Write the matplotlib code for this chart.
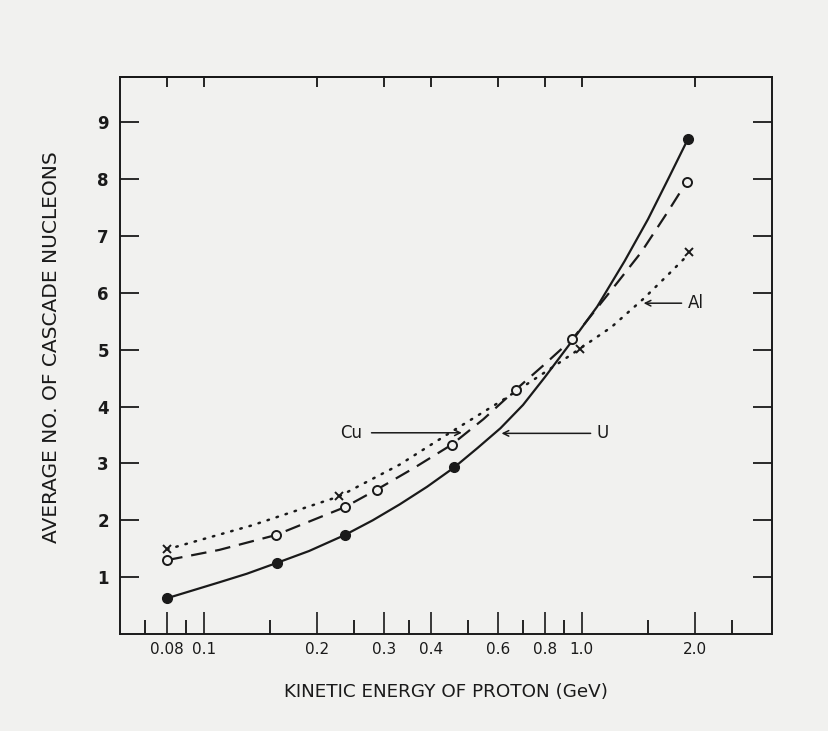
import matplotlib
matplotlib.use("Agg")
import matplotlib.pyplot as plt
from matplotlib.ticker import FixedLocator, NullFormatter

# energies (GeV) and cascade nucleon counts
u_x = [0.08, 0.156, 0.236, 0.46, 1.91]
u_y = [0.63, 1.25, 1.74, 2.93, 8.70]
u_line_x = [0.08, 0.11, 0.13, 0.156, 0.19, 0.236, 0.28, 0.33, 0.39, 0.46, 0.53,
            0.61, 0.70, 0.80, 0.95, 1.10, 1.30, 1.50, 1.70, 1.91]
u_line_y = [0.63, 0.91, 1.06, 1.25, 1.46, 1.74, 2.00, 2.28, 2.59, 2.93, 3.27,
            3.62, 4.03, 4.52, 5.18, 5.76, 6.56, 7.30, 8.02, 8.70]

cu_x = [0.08, 0.155, 0.236, 0.287, 0.453, 0.67, 0.946, 1.90]
cu_y = [1.30, 1.74, 2.23, 2.54, 3.33, 4.30, 5.19, 7.96]
cu_line_x = [0.08, 0.11, 0.155, 0.236, 0.287, 0.36, 0.453, 0.55, 0.67, 0.80,
             0.946, 1.11, 1.25, 1.44, 1.70, 1.90]
cu_line_y = [1.30, 1.48, 1.74, 2.23, 2.54, 2.92, 3.33, 3.78, 4.30, 4.75,
             5.19, 5.77, 6.20, 6.72, 7.45, 7.96]

al_x = [0.08, 0.228, 0.99, 1.93]
al_y = [1.49, 2.42, 5.02, 6.72]
al_line_x = [0.08, 0.134, 0.228, 0.33, 0.453, 0.62, 0.85, 0.99, 1.20, 1.46, 1.70, 1.88]
al_line_y = [1.49, 1.91, 2.42, 2.98, 3.56, 4.12, 4.72, 5.02, 5.40, 5.90, 6.33, 6.62]

# Tick positions and labels
x_major = [0.08, 0.1, 0.2, 0.3, 0.4, 0.6, 0.8, 1.0, 2.0]
x_major_labels = ["0.08", "0.1", "0.2", "0.3", "0.4", "0.6", "0.8", "1.0", "2.0"]
x_minor = [0.07, 0.09, 0.15, 0.25, 0.35, 0.5, 0.7, 0.9, 1.5, 2.5]
y_ticks = [1, 2, 3, 4, 5, 6, 7, 8, 9]

paper = "#f1f1ef"
ink = "#1a1a1a"

fig = plt.figure(figsize=(8.29, 7.31), dpi=100, facecolor=paper)
ax = fig.add_axes([0.1447, 0.1327, 0.7870, 0.7620], facecolor=paper)
ax.set_xscale("log")
ax.set_xlim(0.06, 3.2)
ax.set_ylim(0, 9.8)

# Curves
ax.plot(u_line_x, u_line_y, color=ink, lw=1.6, solid_capstyle="round")
ax.plot(cu_line_x, cu_line_y, color=ink, lw=1.6, dashes=(7, 4))
ax.plot(al_line_x, al_line_y, color=ink, lw=1.8, dashes=(0.6, 3.2), dash_capstyle="round")

# Markers
ax.plot(u_x, u_y, "o", color=ink, ms=7, zorder=3)
ax.plot(cu_x, cu_y, "o", mfc=paper, mec=ink, mew=1.4, ms=6.5, zorder=3)
ax.plot(al_x, al_y, "x", color=ink, mew=1.4, ms=6, zorder=3)

# Axis ticks
ax.xaxis.set_major_locator(FixedLocator(x_major))
ax.set_xticklabels(x_major_labels)
ax.xaxis.set_minor_locator(FixedLocator(x_minor))
ax.xaxis.set_minor_formatter(NullFormatter())
ax.set_yticks(y_ticks)
ax.tick_params(axis="x", which="major", direction="in", length=16, width=1.2,
               top=False, labelsize=11, pad=6, colors=ink)
ax.tick_params(axis="x", which="minor", direction="in", length=10, width=1.2,
               top=False)
ax.tick_params(axis="y", direction="in", length=14, width=1.3, right=True,
               labelsize=12, pad=8, colors=ink)
for lbl in ax.get_yticklabels():
    lbl.set_fontweight("bold")

# top axis: only major ticks, shorter
top = ax.secondary_xaxis("top")
top.xaxis.set_major_locator(FixedLocator(x_major))
top.xaxis.set_minor_locator(FixedLocator([]))
top.tick_params(direction="in", length=7.5, width=1.2, labeltop=False)
top.spines["top"].set_linewidth(1.4)

for s in ax.spines.values():
    s.set_linewidth(1.4)
    s.set_color(ink)

ax.set_xlabel("KINETIC ENERGY OF PROTON (GeV)", fontsize=13.2, color=ink)
ax.xaxis.set_label_coords(0.5, -0.088)
ax.set_ylabel("AVERAGE NO. OF CASCADE NUCLEONS", fontsize=14.5, color=ink)
ax.yaxis.set_label_coords(-0.09, 0.515)

# Labels with arrows
arrow = dict(arrowstyle="->", color=ink, lw=1.1, shrinkA=0, shrinkB=0)
ax.annotate("", xy=(0.482, 3.54), xytext=(0.278, 3.54), arrowprops=arrow)
ax.text(0.246, 3.54, "Cu", fontsize=12, ha="center", va="center", color=ink)
ax.annotate("", xy=(0.614, 3.53), xytext=(1.057, 3.53), arrowprops=arrow)
ax.text(1.14, 3.53, "U", fontsize=12, ha="center", va="center", color=ink)
ax.annotate("", xy=(1.46, 5.82), xytext=(1.84, 5.82), arrowprops=arrow)
ax.text(1.91, 5.82, "Al", fontsize=12, ha="left", va="center", color=ink)

fig.savefig("out.png", dpi=100, facecolor=paper)
